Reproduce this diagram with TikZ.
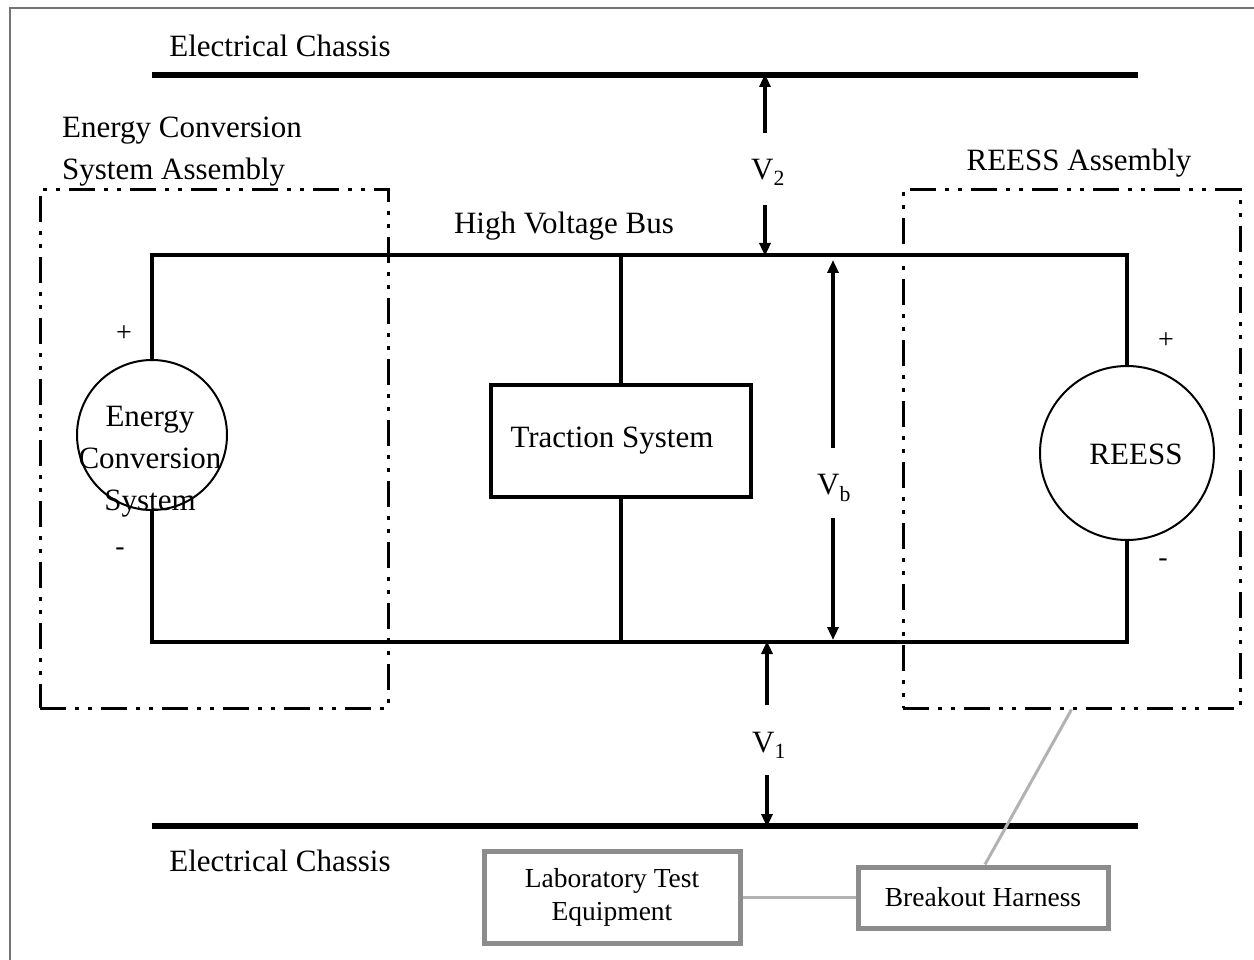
\documentclass[tikz,border=0pt]{standalone}
\usepackage{fontspec}
\setmainfont{Liberation Serif}
\usetikzlibrary{arrows.meta}
\begin{document}
\begin{tikzpicture}[x=1pt,y=-1pt,
  txt/.style={inner sep=0pt,font=\fontsize{31}{42}\selectfont},
  sign/.style={inner sep=0pt,font=\fontsize{28}{28}\selectfont},
  wire/.style={line width=3.5pt},
  chassis/.style={line width=6pt},
  dashdot/.style={draw,line width=3pt,dash pattern=on 26pt off 9pt on 4pt off 9pt on 4pt off 9pt,inner sep=0pt},
  varrow/.style={line width=4.5pt,-{Triangle[length=13pt,width=11pt]}},
  gbox/.style={draw=black!45,line width=5pt,inner sep=0pt,align=center,font=\fontsize{27.5}{33}\selectfont},
  gline/.style={draw=black!30,line width=3pt},
  src/.style={circle,draw,line width=2pt,inner sep=0pt}
]
\useasboundingbox (0,0) rectangle (1254,960);
% outer frame
\draw[black!55,line width=1.5pt] (10,960) -- (10,8) -- (1254,8);

% chassis lines
\coordinate (c2l) at (152,75);
\coordinate (c2r) at (1138,75);
\coordinate (c1l) at (152,826);
\coordinate (c1r) at (1138,826);
\draw[chassis] (c2l) -- (c2r);
\draw[chassis] (c1l) -- (c1r);
\node[txt] (chtop) at (280,46) {Electrical Chassis};
\node[txt] (chbot) at (280,861) {Electrical Chassis};

% assemblies
\node[dashdot,minimum width=348pt,minimum height=518pt] (ecsa) at (214,449) {};
\node[dashdot,minimum width=337pt,minimum height=518pt] (reessa) at (1071.5,449) {};
\node[txt,align=left,anchor=west] (ecsal) at (62,152) {Energy Conversion\\System Assembly};
\node[txt] (reessal) at (1079,163) {REESS Assembly};

% sources
\node[src,minimum size=150pt] (ecs) at (152,435) {};
\node[txt,align=center] (ecst) at (150,462) {Energy\\Conversion\\System};
\node[src,minimum size=174pt] (reess) at (1127,453) {};
\node[txt] (reesst) at (1136,454) {REESS};
\node[sign] (p1) at (124,334) {+};
\node[sign] (m1) at (120,552) {-};
\node[sign] (p2) at (1166,341) {+};
\node[sign] (m2) at (1163,563) {-};

% traction
\node[draw,line width=3.5pt,minimum width=260pt,minimum height=112pt,inner sep=0pt,
  label={[txt,xshift=-9pt]center:Traction System}] (trac) at (621,441) {};

% bus
\coordinate (tl) at (152,255);
\coordinate (tr) at (1127,255);
\coordinate (bl) at (152,642);
\coordinate (br) at (1127,642);
\draw[wire] (ecs.north) -- (tl) -- (tr) -- (reess.north);
\draw[wire] (ecs.south) -- (bl) -- (br) -- (reess.south);
\draw[wire] (trac.north) -- (trac.north |- tl);
\draw[wire] (trac.south) -- (trac.south |- bl);
\node[txt] (hvb) at (564,226) {High Voltage Bus};

% V2
\node[txt] (v2) at (768,172) {V\textsubscript{2}};
\coordinate (v2a) at (765,133);
\coordinate (v2b) at (765,205);
\coordinate (v2t) at (765,74);
\coordinate (v2d) at (765,256);
\draw[varrow] (v2a) -- (v2t);
\draw[varrow] (v2b) -- (v2d);

% V1
\node[txt] (v1) at (769,745) {V\textsubscript{1}};
\coordinate (v1a) at (767,705);
\coordinate (v1b) at (767,775);
\coordinate (v1t) at (767,641);
\coordinate (v1d) at (767,827);
\draw[varrow] (v1a) -- (v1t);
\draw[varrow] (v1b) -- (v1d);

% Vb
\node[txt] (vb) at (834,488) {V\textsubscript{b}};
\coordinate (vba) at (833,448);
\coordinate (vbb) at (833,518);
\coordinate (vbt) at (833,260);
\coordinate (vbd) at (833,640);
\draw[varrow] (vba) -- (vbt);
\draw[varrow] (vbb) -- (vbd);

% test equipment
\node[gbox,minimum width=256pt,minimum height=92pt] (lab) at (612,897.5) {Laboratory Test\\Equipment};
\node[gbox,minimum width=250pt,minimum height=61pt] (bh) at (983,897.5) {Breakout Harness};
\draw[gline] (lab.east) -- (bh.west);
\draw[gline] ([xshift=2pt]bh.north) -- (reessa.south);
\end{tikzpicture}
\end{document}
